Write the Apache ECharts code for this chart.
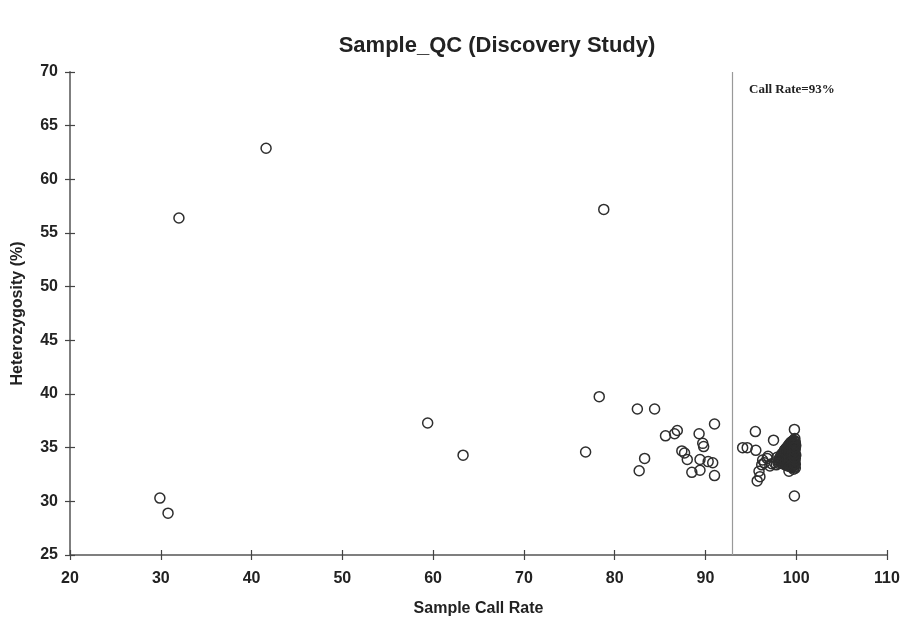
<!DOCTYPE html>
<html><head><meta charset="utf-8">
<script src="https://cdn.jsdelivr.net/npm/echarts@6/dist/echarts.min.js"></script>
<style>html,body{margin:0;padding:0;background:#fff}#c{width:906px;height:621px}</style>
</head><body><div id="c"></div>
<script>
const titleText = 'Sample_QC (Discovery Study)';
const xName = 'Sample Call Rate';
const yName = 'Heterozygosity (%)';
const xTicks = [20, 110, 10];
const yTicks = [25, 70, 5];
const cutoff = 93;
const cutoffLabel = 'Call Rate=93%';

// outliers and mid-range samples
const farSamples = [
  [29.9, 30.3], [30.8, 28.9], [32.0, 56.4], [41.6, 62.9], [59.4, 37.3], [63.3, 34.3],
  [78.8, 57.2], [78.3, 39.75], [76.8, 34.6]
];
const midSamples = [
  [82.5, 38.6], [84.4, 38.6], [83.3, 34.0], [82.7, 32.85], [85.6, 36.1], [86.6, 36.3],
  [86.9, 36.6], [89.3, 36.3], [91.0, 37.2], [89.7, 35.4], [89.8, 35.1], [87.4, 34.7],
  [87.7, 34.5], [88.0, 33.9], [89.4, 33.9], [90.3, 33.7], [90.8, 33.6], [89.4, 32.9],
  [88.5, 32.7], [91.0, 32.4]
];
// samples above the call-rate cutoff
const passSamples = [
  [94.1, 35.0], [94.6, 35.0], [95.5, 36.5], [95.55, 34.75], [97.5, 35.7], [99.8, 36.7],
  [99.8, 30.5], [99.2, 32.8], [97.1, 33.3], [96.9, 34.2], [96.3, 33.85], [96.2, 33.4],
  [95.9, 32.8], [96.0, 32.3], [95.7, 31.9], [96.5, 33.6], [96.8, 34.0], [97.3, 33.5],
  [97.6, 33.6], [97.9, 34.1], [97.8, 33.4], [98.1, 33.75], [98.15, 34.0], [98.3, 33.6],
  [98.35, 33.95], [98.3, 34.25], [98.5, 33.5], [98.55, 33.85], [98.5, 34.1], [98.45, 34.45],
  [98.7, 33.45], [98.75, 33.8], [98.7, 34.15], [98.65, 34.4], [98.7, 34.75], [98.9, 33.35],
  [98.95, 33.7], [98.85, 34.05], [98.9, 34.3], [98.95, 34.6], [98.9, 34.95], [99.1, 33.3],
  [99.1, 33.65], [99.05, 34.0], [99.15, 34.35], [99.1, 34.6], [99.1, 34.95], [99.15, 35.2],
  [99.3, 33.25], [99.35, 33.6], [99.25, 33.95], [99.3, 34.2], [99.35, 34.5], [99.3, 34.8],
  [99.25, 35.1], [99.35, 35.4], [99.5, 33.15], [99.5, 33.5], [99.55, 33.8], [99.45, 34.1],
  [99.5, 34.4], [99.55, 34.7], [99.5, 35.0], [99.45, 35.3], [99.55, 35.6], [99.7, 33.0],
  [99.7, 33.3], [99.75, 33.6], [99.65, 33.9], [99.7, 34.2], [99.75, 34.5], [99.7, 34.8],
  [99.65, 35.1], [99.7, 35.4], [99.75, 35.7], [99.9, 33.1], [99.9, 33.45], [99.85, 33.7],
  [99.9, 34.0], [99.95, 34.3], [99.85, 34.6], [99.9, 34.9], [99.95, 35.2], [99.9, 35.5],
  [99.85, 35.85], [98.4, 33.75], [98.6, 34.0], [98.6, 34.3], [98.8, 33.6], [98.8, 33.9],
  [98.8, 34.5], [98.8, 34.85], [99.0, 33.5], [99.0, 33.85], [99.0, 34.15], [99.0, 34.45],
  [99.0, 34.8], [99.0, 35.05], [99.2, 33.45], [99.2, 33.8], [99.2, 34.1], [99.2, 34.4],
  [99.2, 34.7], [99.2, 35.0], [99.2, 35.3], [99.4, 33.4], [99.4, 33.75], [99.4, 34.05],
  [99.4, 34.35], [99.4, 34.65], [99.4, 34.95], [99.4, 35.2], [99.4, 35.5], [99.6, 33.35],
  [99.6, 33.65], [99.6, 34.0], [99.6, 34.3], [99.6, 34.55], [99.6, 34.9], [99.6, 35.25],
  [99.6, 35.45], [99.8, 33.2], [99.8, 33.5], [99.8, 33.85], [99.8, 34.1], [99.8, 34.4],
  [99.8, 34.75], [99.8, 35.05], [99.8, 35.35], [99.8, 35.6], [98.2, 33.9], [98.0, 33.55]
];

const axisFont = {fontFamily: 'Liberation Sans, Arial', fontWeight: 'bold', fontSize: 16, color: '#222'};
const nameFont = {fontFamily: 'Liberation Sans, Arial', fontWeight: 'bold', fontSize: 16, color: '#222'};
const chart = echarts.init(document.getElementById('c'));
const grid = {left: 70, right: 19, top: 72, bottom: 66, outerBoundsMode: 'none', containLabel: false};
function xAx(main) {
  return {
    type: 'value', min: xTicks[0], max: xTicks[1], interval: xTicks[2], position: 'bottom',
    name: main ? xName : '', nameLocation: 'middle', nameGap: 46, nameTextStyle: nameFont,
    axisLine: {show: main, lineStyle: {color: '#7f7f7f', width: 2}},
    axisTick: {show: true, inside: !main, length: 5, lineStyle: {color: '#444', width: 1.2}},
    axisLabel: {show: main, ...axisFont, margin: 16},
    splitLine: {show: false}
  };
}
function yAx(main) {
  return {
    type: 'value', min: yTicks[0], max: yTicks[1], interval: yTicks[2], position: 'left',
    name: main ? yName : '', nameLocation: 'middle', nameGap: 44, nameRotate: 90, nameTextStyle: nameFont,
    axisLine: {show: main, lineStyle: {color: '#7f7f7f', width: 2}},
    axisTick: {show: true, inside: !main, length: 5, lineStyle: {color: '#444', width: 1.2}},
    axisLabel: {show: main, ...axisFont, margin: 12},
    splitLine: {show: false}
  };
}
const sym = {symbol: 'circle', symbolSize: 10, itemStyle: {color: 'rgba(255,255,255,0)', borderColor: '#2e2e2e', borderWidth: 1.5, opacity: 1}};
chart.setOption({
  animation: false,
  backgroundColor: '#fff',
  title: {text: titleText, left: 492, textAlign: 'center', top: 30,
    textStyle: {fontFamily: 'Liberation Sans, Arial', fontWeight: 'bold', fontSize: 22, color: '#222'}},
  grid: grid,
  xAxis: [xAx(true), xAx(false)],
  yAxis: [yAx(true), yAx(false)],
  graphic: [{type: 'text', left: 749, top: 83,
    style: {text: cutoffLabel, font: 'bold 13px "Liberation Serif", "Times New Roman", serif', fill: '#222'}}],
  series: [
    {type: 'scatter', name: 'far', data: farSamples, ...sym,
      markLine: {silent: true, symbol: 'none', label: {show: false},
        lineStyle: {color: '#999', width: 1.2, type: 'solid'},
        data: [{xAxis: cutoff}]}},
    {type: 'scatter', name: 'mid', data: midSamples, ...sym},
    {type: 'scatter', name: 'pass', data: passSamples, ...sym}
  ]
});
</script></body></html>
